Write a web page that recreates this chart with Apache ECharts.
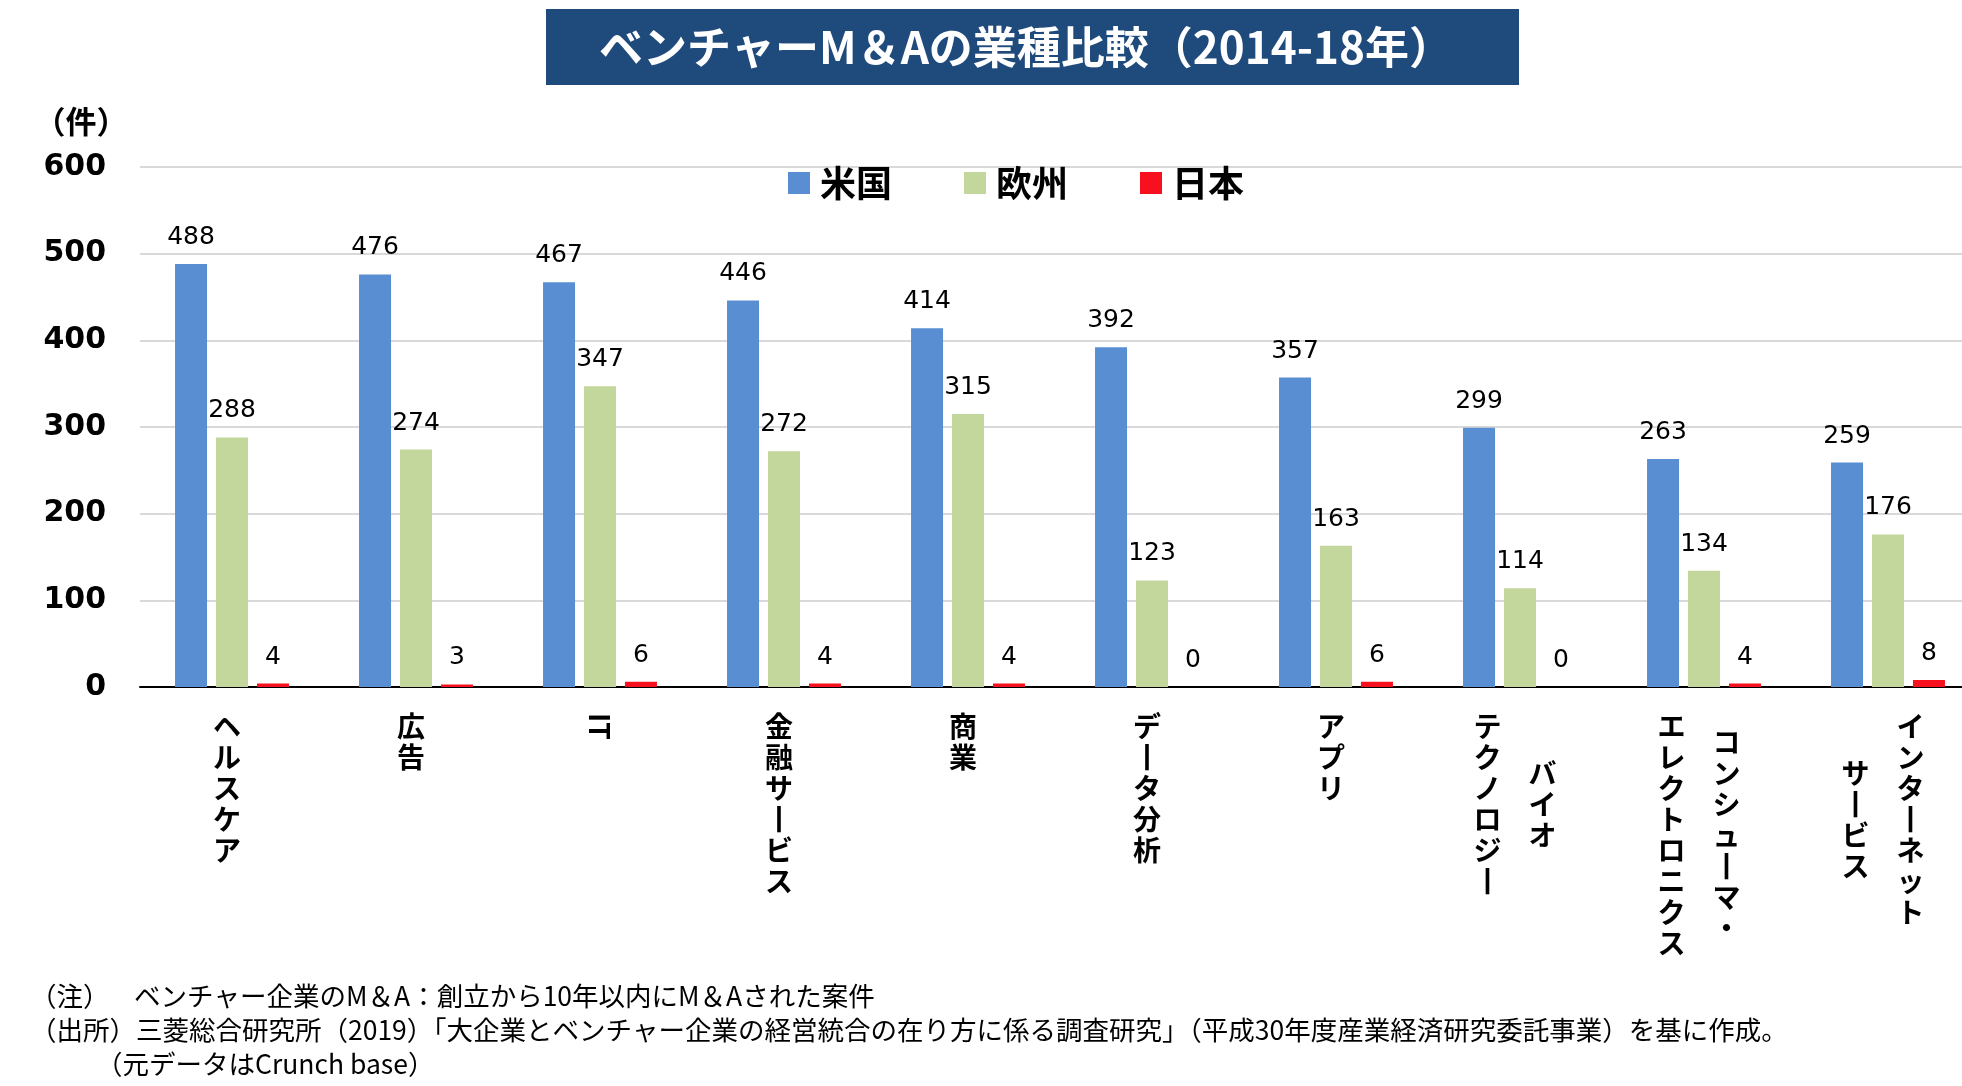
<!DOCTYPE html>
<html><head><meta charset="utf-8">
<script src="https://cdn.jsdelivr.net/npm/echarts@6/dist/echarts.min.js"></script>
<style>html,body{margin:0;padding:0;background:#fff}#c{width:1962px;height:1086px}</style>
</head><body><div id="c"></div>
<script>
// ---- data ----
const titleText = 'ベンチャーM＆Aの業種比較（2014-18年）';
const unitLabel = '（件）';
const categories = ['ヘルスケア','広告','IT','金融サービス','商業','データ分析','アプリ','バイオ\nテクノロジー','コンシューマ・\nエレクトロニクス','インターネット\nサービス'];
const seriesNames = ['米国','欧州','日本'];
const usValues = [488,476,467,446,414,392,357,299,263,259];
const euValues = [288,274,347,272,315,123,163,114,134,176];
const jpValues = [4,3,6,4,4,0,6,0,4,8];
const yMin = 0, yMax = 600, yStep = 100;
const noteHeads = ['（注）','（出所）'];
const noteBodies = ['ベンチャー企業のM＆A：創立から10年以内にM＆Aされた案件',
  '三菱総合研究所（2019）「大企業とベンチャー企業の経営統合の在り方に係る調査研究」（平成30年度産業経済研究委託事業）を基に作成。'];
const noteLast = '（元データはCrunch base）';
const colors = ['#5A8ED2','#C3D69B','#F7101E'];

// ---- vertical label helpers ----
const LH = 31, FS = 28, CJK = '"Noto Sans CJK JP","Noto Sans CJK SC",sans-serif';
const isAscii = s => /^[\x00-\x7F]+$/.test(s);
const vch = ch => ch === 'ー' ? '丨' : ch;
function columnText(line, halfRows, side) {
  const rows = [];
  if (halfRows > 0) rows.push('{h' + halfRows + '| }');
  for (const ch of line) {
    const c = '{c|' + vch(ch) + '}';
    rows.push(side > 0 ? '{s| }' + c : side < 0 ? c + '{s| }' : c);
  }
  return rows.join('\n');
}
function labelRight(value) {
  const lines = value.split('\n');
  if (lines.length === 1) return isAscii(lines[0]) ? '' : columnText(lines[0], 0, 0);
  const longest = Math.max(lines[0].length, lines[1].length);
  return columnText(lines[0], longest - lines[0].length, 1);
}
function labelLeft(value) {
  const lines = value.split('\n');
  if (lines.length < 2) return '';
  const longest = Math.max(lines[0].length, lines[1].length);
  return columnText(lines[1], longest - lines[1].length, -1);
}
const rich = {
  c: {fontSize: FS, lineHeight: LH, fontWeight: 'bold', fontFamily: CJK, color: '#000'},
  s: {width: 55, fontSize: FS, lineHeight: LH},
  h1: {fontSize: 1, lineHeight: LH / 2, height: LH / 2},
  h2: {fontSize: 1, lineHeight: LH, height: LH},
  h3: {fontSize: 1, lineHeight: LH * 1.5, height: LH * 1.5},
  h4: {fontSize: 1, lineHeight: LH * 2, height: LH * 2}
};

const chart = echarts.init(document.getElementById('c'), null, {renderer: 'canvas'});
const labelAxisBase = {
  type: 'category', data: categories, position: 'bottom', gridIndex: 0,
  axisLine: {show: false}, axisTick: {show: false}, splitLine: {show: false}
};
const barLabel = {show: true, position: 'top', distance: 14, fontSize: 25, fontFamily: '"DejaVu Sans",Verdana,sans-serif', color: '#000'};
const mkSeries = (name, data, i) => ({
  name, type: 'bar', data, xAxisIndex: 0, barWidth: 32, barGap: '28%',
  itemStyle: {color: colors[i]}, label: barLabel
});

chart.setOption({
  animation: false,
  backgroundColor: '#fff',
  grid: {left: 140, width: 1840, top: 167, height: 520, containLabel: false, outerBoundsMode: 'none'},
  legend: {
    data: seriesNames, left: 783, top: 160, icon: 'rect', itemWidth: 22, itemHeight: 22, itemGap: 72,
    textStyle: {fontSize: 36, fontWeight: 'bold', fontFamily: CJK, color: '#000', padding: [0, 0, 0, 5]}
  },
  xAxis: [
    Object.assign({}, labelAxisBase, {
      axisLine: {show: true, lineStyle: {color: '#000', width: 2}},
      axisLabel: {interval: 0, margin: 24, verticalAlign: 'top', lineHeight: LH, padding: [0, 10, 0, 0], formatter: labelRight, rich}
    }),
    Object.assign({}, labelAxisBase, {
      axisLabel: {interval: 0, margin: 24, verticalAlign: 'top', lineHeight: LH, padding: [0, 10, 0, 0], formatter: labelLeft, rich}
    }),
    Object.assign({}, labelAxisBase, {
      axisLabel: {interval: 0, margin: 26, rotate: -90, fontSize: FS, fontWeight: 'bold', fontFamily: CJK, color: '#000',
        formatter: v => (v.indexOf('\n') < 0 && isAscii(v)) ? v : ''}
    })
  ],
  yAxis: {
    type: 'value', min: yMin, max: yMax, interval: yStep,
    axisLine: {show: false}, axisTick: {show: false},
    axisLabel: {margin: 34, fontSize: 30, fontWeight: 'bold', fontFamily: '"DejaVu Sans",Verdana,sans-serif', color: '#000'},
    splitLine: {lineStyle: {color: '#D9D9D9', width: 2}}
  },
  series: [mkSeries(seriesNames[0], usValues, 0), mkSeries(seriesNames[1], euValues, 1), mkSeries(seriesNames[2], jpValues, 2)],
  graphic: [
    {type: 'rect', left: 546, top: 9, shape: {width: 973, height: 76}, style: {fill: '#1F4A7C'}},
    {type: 'text', x: 1026, y: 47, style: {text: titleText, fill: '#fff', font: 'bold 44px ' + CJK, textAlign: 'center', textVerticalAlign: 'middle'}},
    {type: 'text', x: 81, y: 121, style: {text: unitLabel, fill: '#000', font: 'bold 31px ' + CJK, textAlign: 'center', textVerticalAlign: 'middle'}},
    {type: 'text', x: 30, y: 996, style: {text: noteHeads[0], fill: '#000', font: '26.5px ' + CJK, textVerticalAlign: 'middle'}},
    {type: 'text', x: 134, y: 996, style: {text: noteBodies[0], fill: '#000', font: '26.5px ' + CJK, textVerticalAlign: 'middle'}},
    {type: 'text', x: 30, y: 1030, style: {text: noteHeads[1], fill: '#000', font: '26.5px ' + CJK, textVerticalAlign: 'middle'}},
    {type: 'text', x: 136, y: 1030, style: {text: noteBodies[1], fill: '#000', font: '26.5px ' + CJK, textVerticalAlign: 'middle'}},
    {type: 'text', x: 96, y: 1064, style: {text: noteLast, fill: '#000', font: '26.5px ' + CJK, textVerticalAlign: 'middle'}}
  ]
});
</script></body></html>
